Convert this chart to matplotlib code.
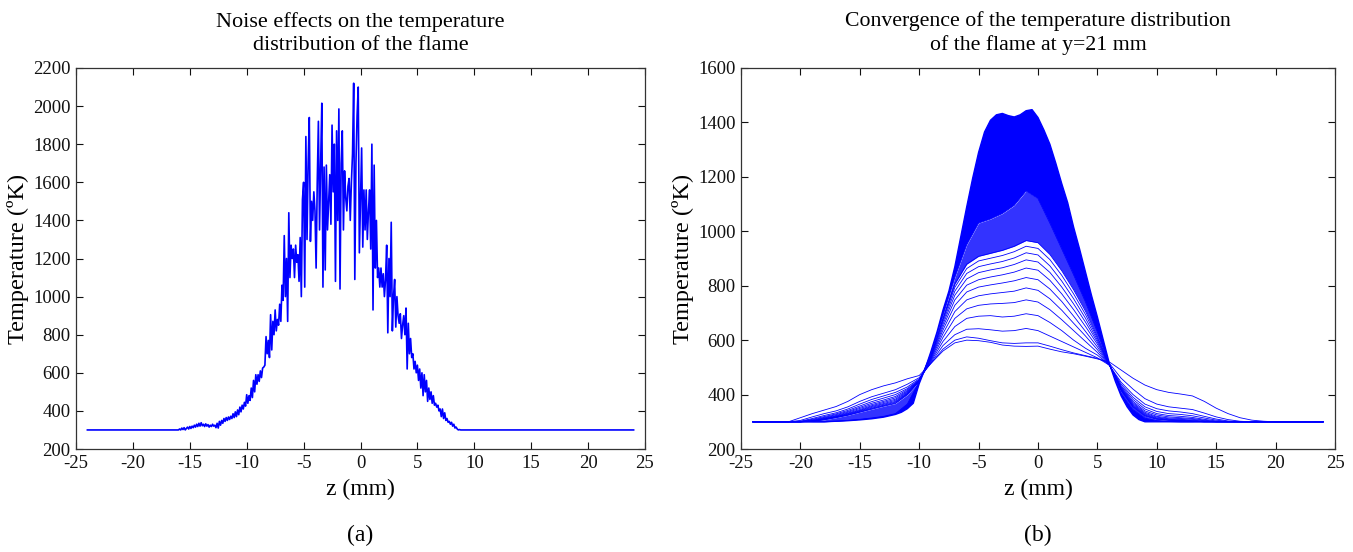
import numpy as np
import matplotlib
matplotlib.use("Agg")
import matplotlib.pyplot as plt

plt.rcParams['font.family'] = ['Liberation Serif', 'DejaVu Serif']
plt.rcParams['axes.unicode_minus'] = False

# ---------------- data: panel (a) ----------------
z_a_flat_left = -24.0
z_a_flat_right = 24.0
T_a_base = 300
z_a_noise = np.round(np.arange(-16.0, 9.0001, 0.1), 1)
T_a_noise = [
    300, 305, 300, 310, 302, 312, 300, 308, 315, 305,
    318, 308, 320, 312, 325, 315, 330, 318, 335, 320,
    338, 322, 330, 318, 332, 320, 328, 315, 325, 318,
    330, 320, 325, 312, 335, 310, 345, 325, 350, 335,
    360, 345, 365, 350, 368, 355, 372, 360, 385, 365,
    395, 370, 405, 380, 420, 395, 430, 410, 445, 425,
    485, 440, 480, 455, 520, 470, 560, 500, 590, 540,
    590, 555, 610, 575, 625, 630, 640, 790, 700, 770,
    680, 905, 720, 870, 800, 930, 820, 880, 850, 960,
    870, 1060, 980, 1320, 1000, 1200, 870, 1440, 1100, 1270,
    1200, 1250, 1100, 1270, 1180, 1220, 1080, 1310, 1000, 1510,
    1600, 1050, 1840, 1300, 1700, 1940, 1290, 1500, 1400, 1550,
    1450, 1150, 1600, 1920, 1350, 1700, 2015, 1050, 1680, 1140,
    1690, 1350, 1500, 1640, 1380, 1900, 1550, 1800, 1080, 1870,
    1400, 1985, 1040, 1700, 1870, 1350, 1660, 1520, 1450, 1580,
    1620, 1400, 1600, 1750, 2120, 1090, 1700, 1950, 2100, 1230,
    1500, 1780, 1260, 1560, 1350, 1560, 1300, 1450, 1560, 1250,
    1800, 930, 1690, 1150, 1400, 1100, 1150, 1050, 1150, 1050,
    1120, 1000, 1090, 1270, 810, 1200, 1000, 1390, 820, 1000,
    1090, 840, 1000, 900, 860, 910, 780, 850, 900, 800,
    940, 620, 860, 700, 780, 680, 700, 620, 660, 600,
    640, 560, 620, 520, 600, 480, 590, 500, 560, 450,
    520, 460, 500, 440, 480, 430, 440, 420, 430, 400,
    410, 370, 410, 360, 390, 350, 360, 340, 345, 330,
    340, 320, 330, 310, 315, 305, 300, 302, 300, 300,
    300,
]

# ---------------- data: panel (b) ----------------
z_b = np.arange(-24, 25, 1)
T_b_curves = [
    # early iterations (visible separate lines)
    [300,300,300,300,315,330,343,356,375,400,418,432,443,458,
     470,515,560,590,600,598,592,582,578,577,578,567,557,550,541,531,520,
     490,460,435,418,408,402,395,375,350,330,315,306,302,300,300,300,300,300],
    [300,300,300,300,305,318,330,340,355,375,392,405,418,438,
     462,515,567,600,612,607,598,590,588,590,590,578,565,553,543,533,515,
     460,420,385,365,355,350,345,332,318,308,302,300,300,300,300,300,300,300],
    [300,300,300,300,302,312,323,333,347,365,382,395,408,428,
     458,518,580,620,640,642,638,633,635,643,635,615,595,575,555,535,508,
     445,400,365,348,340,336,330,320,310,303,300,300,300,300,300,300,300,300],
    [300,300,300,300,301,309,319,329,342,358,374,387,400,422,
     455,522,595,650,680,688,690,685,688,697,690,665,635,600,570,545,508,
     438,390,355,338,330,327,322,314,306,301,300,300,300,300,300,300,300,300],
    [300,300,300,300,300,307,316,326,338,353,368,380,393,418,
     453,526,610,680,715,728,733,735,738,748,740,712,675,635,595,555,508,
     432,382,347,330,323,320,316,309,303,300,300,300,300,300,300,300,300,300],
    [300,300,300,300,300,305,314,323,335,349,363,375,388,414,
     452,530,624,705,748,763,770,775,780,792,783,752,710,662,615,565,509,
     428,375,340,325,318,315,312,306,301,300,300,300,300,300,300,300,300,300],
    [300,300,300,300,300,304,312,321,332,345,359,371,383,411,
     451,533,637,728,777,795,803,810,818,830,822,788,742,688,632,575,510,
     425,370,335,320,314,312,309,304,300,300,300,300,300,300,300,300,300,300],
    [300,300,300,300,300,303,311,319,330,342,356,367,379,408,
     450,536,648,748,802,822,832,840,850,865,857,820,770,712,650,585,510,
     422,366,331,317,311,309,306,302,300,300,300,300,300,300,300,300,300,300],
    [300,300,300,300,300,302,310,318,328,340,353,364,375,405,
     449,539,658,765,825,848,858,866,878,895,887,849,795,733,666,593,511,
     420,362,328,314,309,307,304,301,300,300,300,300,300,300,300,300,300,300],
    [300,300,300,300,300,302,309,317,326,338,350,361,372,403,
     449,542,667,780,845,870,880,889,902,921,913,873,817,752,680,600,511,
     418,359,325,312,307,305,303,300,300,300,300,300,300,300,300,300,300,300],
    [300,300,300,300,300,301,308,316,325,336,348,359,369,401,
     448,544,674,794,863,891,901,911,925,945,937,896,838,770,694,607,512,
     416,356,323,310,306,304,302,300,300,300,300,300,300,300,300,300,300,300],
    [300,300,300,300,300,301,307,315,324,335,346,357,367,399,
     448,546,680,806,879,908,919,930,945,966,958,915,855,785,706,613,512,
     415,354,321,309,305,303,301,300,300,300,300,300,300,300,300,300,300,300],
]
# iteration where the line bundle becomes dense (peak ~1150 K)
T_b_mid = [300,300,300,300,300,300,300,302,305,309,314,320,330,365,
           448,552,690,830,950,1030,1045,1065,1095,1148,1120,1030,935,840,740,630,512,
           405,345,313,304,301,300,300,300,300,300,300,300,300,300,300,300,300,300]
# converged distribution
z_b_final = [-24, -18, -17, -16, -15, -14, -13, -12,
             -11.5, -11, -10.5, -10, -9.5, -9, -8.5, -8, -7.5, -7,
             -6.5, -6, -5.5, -5, -4.5, -4, -3.5, -3, -2.5, -2,
             -1.5, -1, -0.5, 0, 0.5, 1, 1.5, 2, 2.5, 3,
             3.5, 4, 4.5, 5, 5.5, 6, 6.5, 7, 7.5, 8,
             8.5, 9, 10, 24]
T_b_final = [300, 300, 302, 304, 307, 311, 317, 327,
             335, 348, 368, 440, 495, 560, 630, 710, 780, 870,
             980, 1090, 1195, 1290, 1365, 1408, 1428, 1433, 1425, 1420,
             1428, 1443, 1447, 1418, 1372, 1320, 1250, 1175, 1105, 1015,
             935, 850, 765, 685, 600, 515, 450, 395, 355, 325,
             308, 300, 300, 300]

xticks = [-25, -20, -15, -10, -5, 0, 5, 10, 15, 20, 25]
yticks_a = list(range(200, 2201, 200))
yticks_b = list(range(200, 1601, 200))

title_a = "Noise effects on the temperature\ndistribution of the flame"
title_b = "Convergence of the temperature distribution\nof the flame at y=21 mm"
xlabel = "z (mm)"
ylabel = "Temperature (ºK)"

BLUE = "#0000ff"
W, H = 1353, 552
TOP, BOT = 68, 449
AL, AR = 76, 645
BL, BR = 741, 1335

fig = plt.figure(figsize=(W / 100, H / 100), dpi=100)
axA = fig.add_axes([AL / W, 1 - BOT / H, (AR - AL) / W, (BOT - TOP) / H])
axB = fig.add_axes([BL / W, 1 - BOT / H, (BR - BL) / W, (BOT - TOP) / H])


def style(ax, yt, ylim):
    ax.set_xlim(-25, 25)
    ax.set_ylim(*ylim)
    ax.set_xticks(xticks)
    ax.set_yticks(yt)
    ax.tick_params(direction='in', length=5, width=0.8, top=True, right=True,
                   labelsize=13.5, pad=4, colors='#111111')
    for s in ax.spines.values():
        s.set_linewidth(0.9)
        s.set_color('#333333')
    ax.set_xlabel(xlabel, fontsize=17, labelpad=5)
    ax.set_ylabel(ylabel, fontsize=17.5, labelpad=3)


# panel (a)
z_a = np.concatenate([[z_a_flat_left], z_a_noise, [z_a_flat_right]])
T_a = np.concatenate([[T_a_base], T_a_noise, [T_a_base]])
axA.plot(z_a, T_a, color=BLUE, lw=1.2)
style(axA, yticks_a, (200, 2200))
axA.set_title(title_a, fontsize=16, pad=13, linespacing=1.3)

# panel (b)
c_last = np.array(T_b_curves[-1])
mid = np.array(T_b_mid)
axB.fill_between(z_b, c_last, mid, color=BLUE, alpha=0.8, lw=0)
poly_z = np.concatenate([z_b_final, z_b[::-1]])
poly_T = np.concatenate([T_b_final, mid[::-1]])
axB.fill(poly_z, poly_T, color=BLUE, lw=0)
for c in T_b_curves:
    axB.plot(z_b, c, color=BLUE, lw=0.6)
axB.plot(z_b, mid, color=BLUE, lw=0.6)
axB.plot(z_b_final, T_b_final, color=BLUE, lw=1.0)
style(axB, yticks_b, (200, 1600))
axB.set_title(title_b, fontsize=15.7, pad=13, linespacing=1.3)

fig.text((AL + AR) / 2 / W, 1 - 535 / H, "(a)", ha='center', va='center', fontsize=17)
fig.text((BL + BR) / 2 / W, 1 - 535 / H, "(b)", ha='center', va='center', fontsize=17)

fig.savefig("out.png", dpi=100)
